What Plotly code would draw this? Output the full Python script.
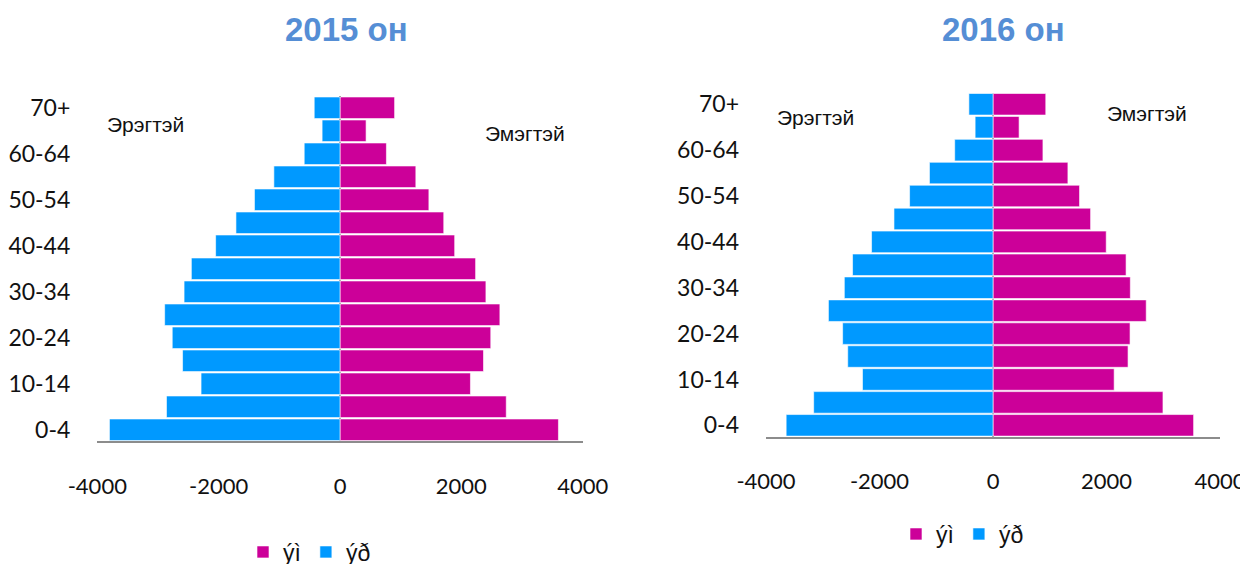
import plotly.graph_objects as go

# age groups, bottom to top
age_groups = ['0-4', '5-9', '10-14', '15-19', '20-24', '25-29', '30-34', '35-39',
              '40-44', '45-49', '50-54', '55-59', '60-64', '65-69', '70+']

# 2015
male_2015 = [3800, 2860, 2290, 2595, 2765, 2890, 2570, 2450, 2050, 1715, 1410, 1090, 590, 295, 425]
female_2015 = [3600, 2740, 2150, 2365, 2485, 2635, 2405, 2235, 1890, 1710, 1465, 1250, 765, 430, 900]

# 2016
male_2016 = [3645, 3160, 2300, 2560, 2650, 2900, 2620, 2475, 2140, 1745, 1470, 1120, 675, 315, 425]
female_2016 = [3535, 2995, 2135, 2380, 2415, 2700, 2420, 2345, 1995, 1720, 1525, 1320, 880, 460, 930]

x_ticks = [-4000, -2000, 0, 2000, 4000]
x_tick_text = ['-4000', '-2000', '0', '2000', '4000']
y_ticks = age_groups[::2]

titles = ['2015 он', '2016 он']
male_label = 'Эрэгтэй'
female_label = 'Эмэгтэй'
female_name = 'ýì'
male_name = 'ýð'

MAGENTA = '#CC0099'
BLUE = '#0099FF'
GRAY = '#8C8C8C'

# page body has an 8px margin, so the figure sits 8px in from the window corner
OFF = 8
FW, FH = 1240, 600
ML, MR, MT, MB = 20, 20, 40, 80
PW, PH = FW - ML - MR, FH - MT - MB


def px(x):
    # window pixel -> paper fraction
    return (x - OFF - ML) / PW


def py(y):
    return 1 - (y - OFF - MT) / PH


fig = go.Figure()

panels = [
    (male_2015, female_2015, 'x', 'y', 'legend'),
    (male_2016, female_2016, 'x2', 'y2', 'legend2'),
]
for male, female, xa, ya, lg in panels:
    fig.add_trace(go.Bar(
        y=age_groups, x=female, name=female_name, orientation='h',
        marker=dict(color=MAGENTA, line=dict(color='rgba(255,255,255,0.6)', width=1)),
        xaxis=xa, yaxis=ya, legend=lg
    ))
    fig.add_trace(go.Bar(
        y=age_groups, x=[-v for v in male], name=male_name, orientation='h',
        marker=dict(color=BLUE, line=dict(color='rgba(255,255,255,0.6)', width=1)),
        xaxis=xa, yaxis=ya, legend=lg
    ))

xaxis_style = dict(
    range=[-4000, 4000], tickvals=x_ticks, ticktext=x_tick_text,
    showgrid=False, showline=True, linecolor=GRAY, linewidth=2,
    zeroline=True, zerolinecolor=GRAY, zerolinewidth=2,
    ticks='', ticklabelstandoff=24, fixedrange=True, automargin=False,
    tickfont=dict(family='Lato', size=22, color='#111111')
)
yaxis_style = dict(
    type='category', categoryorder='array', categoryarray=age_groups,
    range=[-0.5, 14.5], tickvals=y_ticks, showgrid=False, showline=False,
    ticks='', ticklabelstandoff=26, fixedrange=True, automargin=False,
    tickfont=dict(family='Lato', size=23, color='#111111')
)

legend_style = dict(
    orientation='h', yanchor='middle', xanchor='left',
    font=dict(family='Liberation Sans', size=23, color='#111111'),
    bgcolor='rgba(0,0,0,0)', traceorder='normal'
)

fig.update_layout(
    width=FW, height=FH,
    margin=dict(l=ML, r=MR, t=MT, b=MB),
    paper_bgcolor='white', plot_bgcolor='white',
    barmode='relative', bargap=0.06,
    xaxis=dict(domain=[px(97.3), px(582.7)], anchor='y', **xaxis_style),
    yaxis=dict(domain=[py(441.3), py(96.3)], anchor='x', **yaxis_style),
    xaxis2=dict(domain=[px(766), px(1220)], anchor='y2', **xaxis_style),
    yaxis2=dict(domain=[py(436.8), py(92.8)], anchor='x2', **yaxis_style),
    legend=dict(x=px(243), y=py(552), **legend_style),
    legend2=dict(x=px(896), y=py(534), **legend_style),
    showlegend=True,
)

# titles and side labels
title_font = dict(family='Liberation Sans', size=33, color='#558ED5')
label_font = dict(family='Liberation Sans', size=21, color='#111111')
notes = [
    (titles[0], 346, 30, title_font, True),
    (titles[1], 1003, 30, title_font, True),
    (male_label, 145, 124, label_font, False),
    (female_label, 525, 133, label_font, False),
    (male_label, 815, 117, label_font, False),
    (female_label, 1147, 114, label_font, False),
]
for text, x, y, font, bold in notes:
    fig.add_annotation(
        text=f'<b>{text}</b>' if bold else text,
        x=px(x), y=py(y), xref='paper', yref='paper',
        xanchor='center', yanchor='middle', showarrow=False, font=font
    )

fig.write_html('out.html')
